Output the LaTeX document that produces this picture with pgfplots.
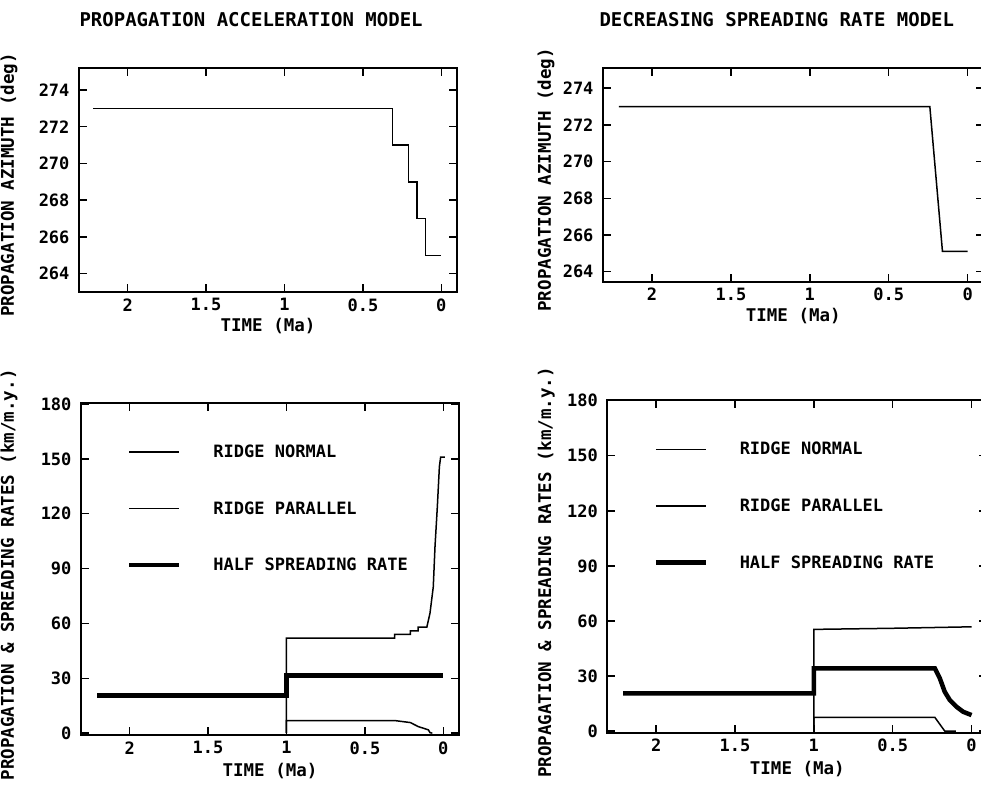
\documentclass[border=0pt]{standalone}
\usepackage{fontspec}
\setmainfont{DejaVu Sans Mono}
\usepackage{pgfplots}
\pgfplotsset{compat=1.18}
\tikzset{
  plthin/.style={line width=1.5pt, black},
  plthick/.style={line width=4.5pt, black},
}
\pgfplotsset{
  panel/.style={
    scale only axis,
    anchor=south west,
    x dir=reverse,
    xmin=-0.1, xmax=2.31,
    xtick={0,0.5,1,1.5,2},
    xticklabels={0,0.5,1,1.5,2},
    tick align=inside,
    major tick length=8pt,
    tick style={line width=1.4pt, black},
    axis line style={line width=1.8pt},
    /pgf/number format/assume math mode=true,
    ticklabel style={font=\bfseries\fontsize{17}{19}\selectfont},
    xticklabel style={yshift=-3pt},
    yticklabel style={xshift=-6pt},
    label style={font=\bfseries\fontsize{17.5}{20}\selectfont},
    xlabel={TIME (Ma)},
    xlabel style={at={(axis description cs:0.5,0)}, anchor=center, yshift=-34pt},
  },
  azi/.style={panel, ytick={264,266,...,274}, ylabel={PROPAGATION AZIMUTH (deg)}},
  rate/.style={panel, ytick={0,30,...,180}, ylabel={PROPAGATION \& SPREADING RATES (km/m.y.)},
    legend cell align=left,
    legend image code/.code={\draw[##1] (0pt,0pt) -- (50pt,0pt); \path[draw=none, fill=none] (0pt,0pt) -- (84pt,0pt);},
    legend style={draw=none, fill=none, at={(rel axis cs:0,1)}, anchor=north west,
      xshift=46pt, yshift=-42pt, inner sep=0pt, nodes={inner sep=0pt},
      row sep=42.5pt, font=\bfseries\fontsize{17}{19}\selectfont},
  },
}
\begin{document}
\begin{tikzpicture}
\path[use as bounding box] (0pt,0pt) rectangle (981pt,786pt);
\clip (0pt,0pt) rectangle (981pt,786pt);
\node[anchor=west, font=\bfseries\fontsize{19}{21}\selectfont] at (76pt,766pt) {PROPAGATION ACCELERATION MODEL};
\node[anchor=west, font=\bfseries\fontsize{19}{21}\selectfont] at (596pt,766pt) {DECREASING SPREADING RATE MODEL};

% top left
\begin{axis}[azi, at={(79pt,494pt)}, width=378pt, height=224pt, ymin=263, ymax=275.2,
  ylabel style={at={(axis description cs:0,0.5)}, anchor=center, yshift=70pt, xshift=-5pt}]
\addplot[plthin] coordinates {(2.22,273) (0.31,273) (0.31,271) (0.21,271) (0.21,269) (0.155,269) (0.155,267) (0.10,267) (0.10,265) (0.0,265)};
\end{axis}

% top right
\begin{axis}[azi, at={(603pt,504.3pt)}, width=380.5pt, height=213.7pt, ymin=263.45, ymax=275.1,
  ylabel style={at={(axis description cs:0,0.5)}, anchor=center, yshift=57pt, xshift=-5pt}]
\addplot[plthin] coordinates {(2.21,273) (0.24,273) (0.16,265.1) (0.0,265.1)};
\end{axis}

% bottom left
\begin{axis}[rate, at={(81pt,51pt)}, width=378pt, height=332.3pt, ymin=-1, ymax=180.7,
  ylabel style={at={(axis description cs:0,0.5)}, anchor=center, yshift=72pt, xshift=-6pt},
  xlabel style={yshift=-2pt}]
\addplot[plthin] coordinates {(1,0) (1,52) (0.31,52) (0.31,54) (0.21,54) (0.21,56) (0.16,56) (0.16,58) (0.105,58) (0.085,65.6) (0.064,80) (0.053,102) (0.038,124) (0.025,145.8) (0.017,151) (-0.01,151)};
\addlegendentry{RIDGE NORMAL}
\addplot[plthin] coordinates {(1,0) (1,6.9) (0.31,6.9) (0.21,5.8) (0.16,3.6) (0.127,2.7) (0.095,1.8) (0.085,0.3) (0.07,0)};
\addlegendentry{RIDGE PARALLEL}
\addplot[plthick] coordinates {(2.205,20.5) (1,20.5) (1,31.5) (0,31.5)};
\addlegendentry{HALF SPREADING RATE}
\end{axis}

% bottom right
\begin{axis}[rate, at={(607.3pt,53.3pt)}, width=380pt, height=332.7pt, ymin=-0.9, ymax=180.4,
  ylabel style={at={(axis description cs:0,0.5)}, anchor=center, yshift=61pt, xshift=-6pt},
  xlabel style={yshift=-2pt}]
\addplot[plthin] coordinates {(1,0) (1,55.4) (0.5,56) (0,56.8)};
\addlegendentry{RIDGE NORMAL}
\addplot[plthin] coordinates {(1,0) (1,7.5) (0.233,7.5) (0.17,0) (0.1,0)};
\addlegendentry{RIDGE PARALLEL}
\addplot[plthick] coordinates {(2.21,20.5) (1,20.5) (1,34.2) (0.233,34.2) (0.201,28.7) (0.17,21.4) (0.138,16.9) (0.095,13.2) (0.053,10.5) (0,8.7)};
\addlegendentry{HALF SPREADING RATE}
\end{axis}
\end{tikzpicture}
\end{document}
